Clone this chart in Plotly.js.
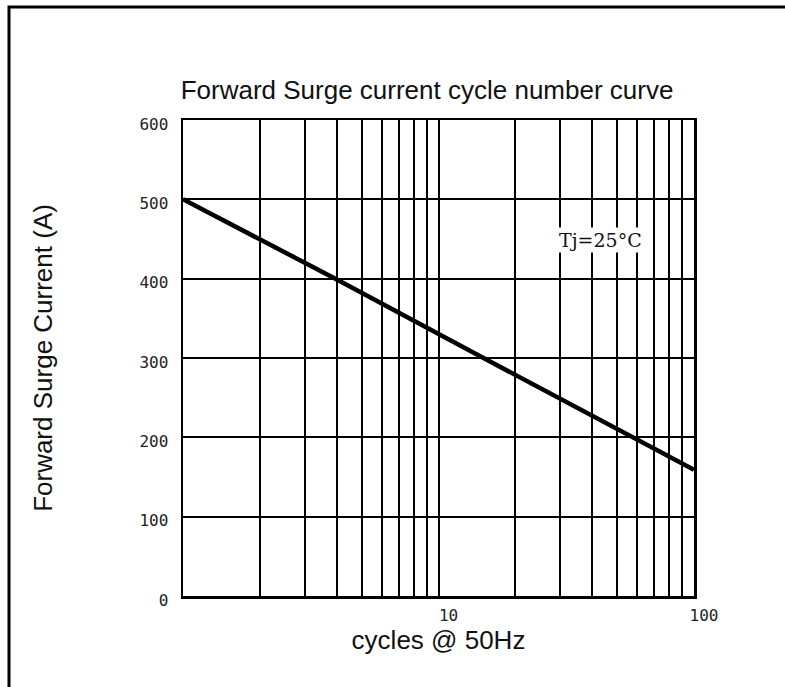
<!DOCTYPE html>
<html>
<head>
<meta charset="utf-8">
<script src="https://cdn.plot.ly/plotly-3.0.1.min.js"></script>
<style>html,body{margin:0;padding:0;background:#fff;}#chart{width:785px;height:687px;}</style>
</head>
<body>
<div id="chart"></div>
<script>
// Data
const cycles = [1, 4, 15, 58, 100];
const surgeCurrent = [500, 399, 300, 200, 159];

const xTickVals = [2, 3, 4, 5, 6, 7, 8, 9, 10, 20, 30, 40, 50, 60, 70, 80, 90, 100];
const xTickText = ['', '', '', '', '', '', '', '', '10', '', '', '', '', '', '', '', '', '100'];
const yTickVals = [0, 100, 200, 300, 400, 500, 600];

const chartTitle = 'Forward Surge current cycle number curve';
const xTitle = 'cycles @ 50Hz';
const yTitle = 'Forward Surge Current (A)';
const noteText = 'Tj=25°C';
const noteX = 43, noteY = 449;

const trace = {
  x: cycles,
  y: surgeCurrent,
  type: 'scatter',
  mode: 'lines',
  line: {color: '#000', width: 4.5},
  hoverinfo: 'x+y',
  showlegend: false
};

const titleFont = {family: 'Liberation Sans, Arial, sans-serif', size: 26, color: '#111'};

const layout = {
  width: 785,
  height: 687,
  margin: {l: 183, r: 91, t: 120, b: 91},
  paper_bgcolor: '#fff',
  plot_bgcolor: '#fff',
  title: {
    text: chartTitle,
    font: titleFont,
    xref: 'container', x: 0.544, xanchor: 'center',
    yref: 'container', y: 1 - 90 / 687, yanchor: 'middle'
  },
  xaxis: {
    type: 'log',
    range: [0, 2],
    tickmode: 'array',
    tickvals: xTickVals,
    ticktext: xTickText,
    ticks: '',
    showgrid: true,
    gridcolor: '#000',
    gridwidth: 2,
    showline: true,
    linecolor: '#000',
    linewidth: 2.5,
    mirror: true,
    zeroline: false,
    ticklabelshift: 10,
    ticklabelstandoff: 3,
    tickfont: {family: 'DejaVu Sans Mono, monospace', size: 16, color: '#222'},
    title: {
      text: xTitle,
      standoff: 0,
      font: titleFont
    }
  },
  yaxis: {
    range: [0, 600],
    tickmode: 'array',
    tickvals: yTickVals,
    ticks: '',
    showgrid: true,
    gridcolor: '#000',
    gridwidth: 2,
    showline: true,
    linecolor: '#000',
    linewidth: 2.5,
    mirror: true,
    zeroline: false,
    ticklabelstandoff: 9,
    ticklabelshift: 4,
    tickfont: {family: 'DejaVu Sans Mono, monospace', size: 16, color: '#222'},
    title: {
      text: yTitle,
      standoff: 80,
      font: titleFont
    }
  },
  annotations: [{
    x: Math.log10(noteX), y: noteY, xref: 'x', yref: 'y',
    text: noteText, showarrow: false,
    bgcolor: '#fff',
    font: {family: 'DejaVu Serif, serif', size: 19, color: '#111'}
  }],
  shapes: [{
    type: 'rect', xref: 'paper', yref: 'paper',
    x0: (9 - 183) / 511, x1: 1.6,
    y0: -0.6, y1: (596 - 7) / 476,
    line: {color: '#000', width: 3},
    layer: 'below'
  }]
};

Plotly.newPlot('chart', [trace], layout, {displayModeBar: false, staticPlot: true});
</script>
</body>
</html>
